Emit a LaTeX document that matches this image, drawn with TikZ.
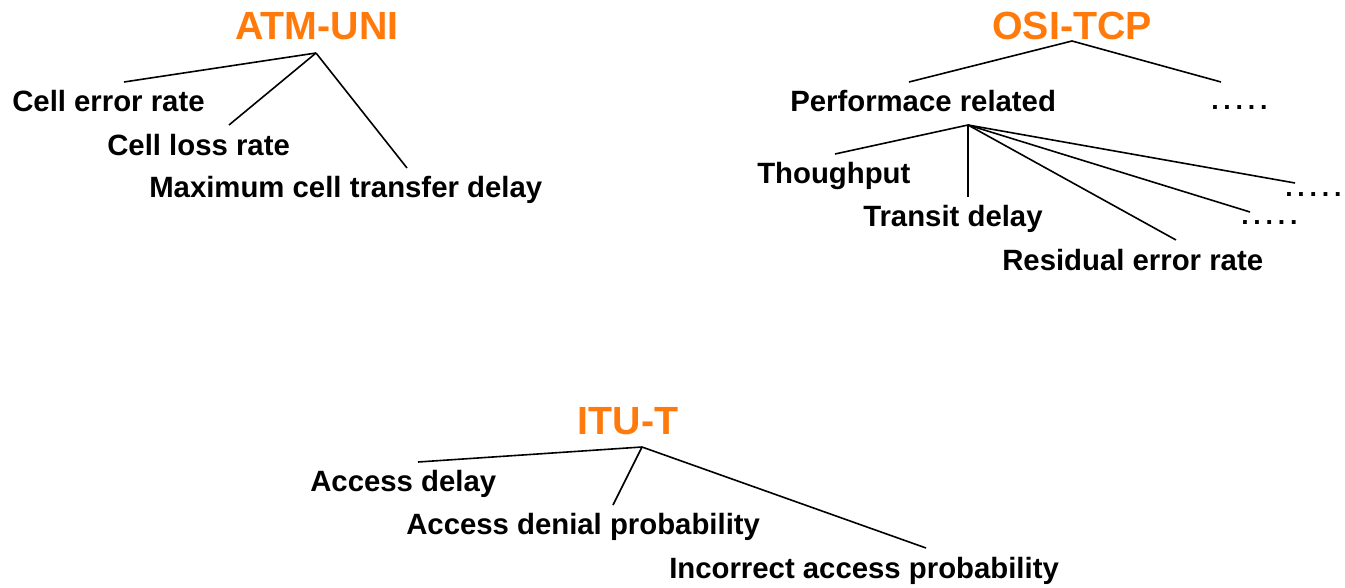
\documentclass[tikz,border=0pt]{standalone}
\usepackage{fontspec}
\setmainfont{Liberation Sans}
\definecolor{titleorange}{RGB}{255,122,10}
\begin{document}
\begin{tikzpicture}[x=0.75pt,y=-0.75pt,
    title/.style={font=\bfseries\fontsize{29.5}{31}\selectfont,text=titleorange,inner sep=0pt,anchor=base},
    item/.style={font=\bfseries\fontsize{22}{24}\selectfont,inner sep=0pt,anchor=base west},
    more/.style={item,font=\bfseries\fontsize{20}{24}\selectfont\addfontfeatures{LetterSpace=18}},
    branch/.style={line width=1.2pt}]
  \useasboundingbox (0,0) rectangle (1345,588);
  % ATM-UNI
  \node[title] (atm) at (317,40) {ATM-UNI};
  \coordinate (atm-c) at (316,53);
  \node[item] (cer) at (12,111.5) {Cell error rate};
  \node[item] (clr) at (107,155.5) {Cell loss rate};
  \node[item] (mctd) at (149,198) {Maximum cell transfer delay};
  \coordinate (cer-t) at (124,82);
  \coordinate (clr-t) at (229,125);
  \coordinate (mctd-t) at (407,168);
  \draw[branch] (atm-c) -- (cer-t);
  \draw[branch] (atm-c) -- (clr-t);
  \draw[branch] (atm-c) -- (mctd-t);
  % OSI-TCP
  \node[title] (osi) at (1072,40) {OSI-TCP};
  \coordinate (osi-c) at (1072,41);
  \node[item] (perf) at (790,111.5) {Performace related};
  \node[more] (odots) at (1211,110) {.....};
  \coordinate (perf-t) at (909,82);
  \coordinate (odots-t) at (1221,82);
  \draw[branch] (osi-c) -- (perf-t);
  \draw[branch] (osi-c) -- (odots-t);
  \coordinate (perf-c) at (968,125);
  \node[item] (thr) at (757,183.5) {Thoughput};
  \node[item] (tdel) at (863,226.5) {Transit delay};
  \node[item] (rer) at (1002,270.5) {Residual error rate};
  \node[more] (pdots1) at (1285,196) {.....};
  \node[more] (pdots2) at (1241,224) {.....};
  \coordinate (thr-t) at (835,154);
  \coordinate (tdel-t) at (968,197);
  \coordinate (rer-t) at (1176,240);
  \coordinate (pdots1-t) at (1295,183);
  \coordinate (pdots2-t) at (1250,212);
  \draw[branch] (perf-c) -- (thr-t);
  \draw[branch] (perf-c) -- (tdel-t);
  \draw[branch] (perf-c) -- (rer-t);
  \draw[branch] (perf-c) -- (pdots2-t);
  \draw[branch] (perf-c) -- (pdots1-t);
  % ITU-T
  \node[title] (itu) at (628,434) {ITU-T};
  \coordinate (itu-c) at (642,447);
  \node[item] (adel) at (310,491.5) {Access delay};
  \node[item] (adp) at (406,534.5) {Access denial probability};
  \node[item] (iap) at (669,578.5) {Incorrect access probability};
  \coordinate (adel-t) at (418,462);
  \coordinate (adp-t) at (613,505);
  \coordinate (iap-t) at (926,548);
  \draw[branch] (itu-c) -- (adel-t);
  \draw[branch] (itu-c) -- (adp-t);
  \draw[branch] (itu-c) -- (iap-t);
\end{tikzpicture}
\end{document}
